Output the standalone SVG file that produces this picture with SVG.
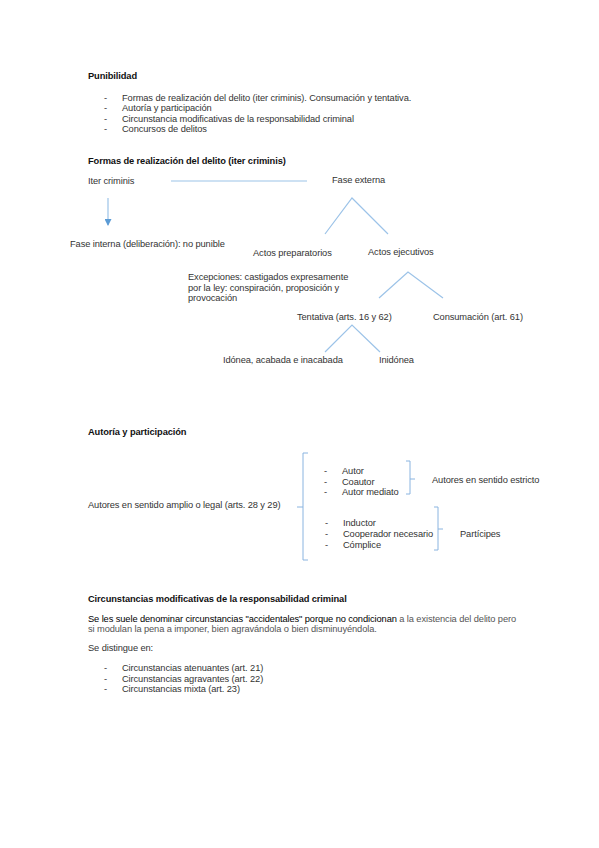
<svg xmlns="http://www.w3.org/2000/svg" width="599" height="848" viewBox="0 0 599 848">
<style>
text{font-family:"Liberation Sans",Arial,sans-serif;font-size:9.3px;fill:#333;letter-spacing:-0.1px}
.b{font-weight:bold;fill:#111}
.d{fill:#000}
.g{fill:#555}
.ln{stroke:#9cc3e8;stroke-width:1.2;fill:none}
.br{stroke:#8ab4e0;stroke-width:1;fill:none}
</style>
<defs>
<marker id="ah" markerWidth="7" markerHeight="7" refX="6" refY="3.5" orient="auto" markerUnits="userSpaceOnUse">
<path d="M0,0 L7,3.5 L0,7 Z" fill="#5b9bd5"/>
</marker>
</defs>
<rect width="599" height="848" fill="#fff"/>

<g id="punibilidad">
<text class="b" x="88" y="79">Punibilidad</text>
<text x="104" y="101">-</text><text x="122" y="101">Formas de realización del delito (iter criminis). Consumación y tentativa.</text>
<text x="104" y="111">-</text><text x="122" y="111">Autoría y participación</text>
<text x="104" y="122">-</text><text x="122" y="122">Circunstancia modificativas de la responsabilidad criminal</text>
<text x="104" y="132">-</text><text x="122" y="132">Concursos de delitos</text>
</g>

<text class="b" x="88" y="164">Formas de realización del delito (iter criminis)</text>

<g id="connectors">
<line class="ln" x1="171" y1="181" x2="307" y2="181"/>
<line x1="108" y1="198" x2="108" y2="225" stroke="#9cc3e8" stroke-width="1.2" marker-end="url(#ah)"/>
<polyline class="ln" points="325,234 352,198 388,234"/>
<polyline class="ln" points="379,298 408,272 443,298"/>
<polyline class="ln" points="325,352 352,325 380,352"/>
<path class="br" d="M308,453 H303 V560 H308 M303,507 H297"/>
<path class="br" d="M406,461 H410 V494 H406 M410,479 H415"/>
<path class="br" d="M434,507 H438 V550 H434 M438,529 H443"/>
</g>

<g id="iter"><text x="88" y="184">Iter criminis</text></g>
<g id="fase-externa"><text x="332" y="183">Fase externa</text></g>
<g id="fase-interna"><text x="70" y="247">Fase interna (deliberación): no punible</text></g>
<g id="actos-prep"><text x="253" y="256">Actos preparatorios</text></g>
<g id="actos-ejec"><text x="368" y="255">Actos ejecutivos</text></g>
<g id="excepciones">
<text x="188" y="280">Excepciones: castigados expresamente</text>
<text x="188" y="291">por la ley: conspiración, proposición y</text>
<text x="188" y="301">provocación</text>
</g>
<g id="tentativa"><text x="297" y="320">Tentativa (arts. 16 y 62)</text></g>
<g id="consumacion"><text x="433" y="320">Consumación (art. 61)</text></g>
<g id="idonea"><text x="223" y="363">Idónea, acabada e inacabada</text></g>
<g id="inidonea"><text x="379" y="363">Inidónea</text></g>

<text class="b" x="88" y="435">Autoría y participación</text>
<g id="autores-amplio"><text x="88" y="508">Autores en sentido amplio o legal (arts. 28 y 29)</text></g>
<g id="autores-list">
<text x="324" y="474">-</text><text x="342" y="474">Autor</text>
<text x="324" y="485">-</text><text x="342" y="485">Coautor</text>
<text x="324" y="495">-</text><text x="342" y="495">Autor mediato</text>
</g>
<g id="autores-estricto"><text x="432" y="483">Autores en sentido estricto</text></g>
<g id="participes-list">
<text x="325" y="526">-</text><text x="343" y="526">Inductor</text>
<text x="325" y="537">-</text><text x="343" y="537">Cooperador necesario</text>
<text x="325" y="548">-</text><text x="343" y="548">Cómplice</text>
</g>
<g id="participes"><text x="460" y="537">Partícipes</text></g>

<g id="circunstancias">
<text class="b" x="88" y="602">Circunstancias modificativas de la responsabilidad criminal</text>
<text x="88" y="622"><tspan class="d">Se les suele denominar circunstancias "accidentales" porque no condicionan</tspan><tspan class="g"> a la existencia del delito pero</tspan></text>
<text class="g" x="88" y="632">si modulan la pena a imponer, bien agravándola o bien disminuyéndola.</text>
<text x="88" y="651">Se distingue en:</text>
<text x="104" y="671">-</text><text x="122" y="671">Circunstancias atenuantes (art. 21)</text>
<text x="104" y="682">-</text><text x="122" y="682">Circunstancias agravantes (art. 22)</text>
<text x="104" y="692">-</text><text x="122" y="692">Circunstancias mixta (art. 23)</text>
</g>
</svg>
